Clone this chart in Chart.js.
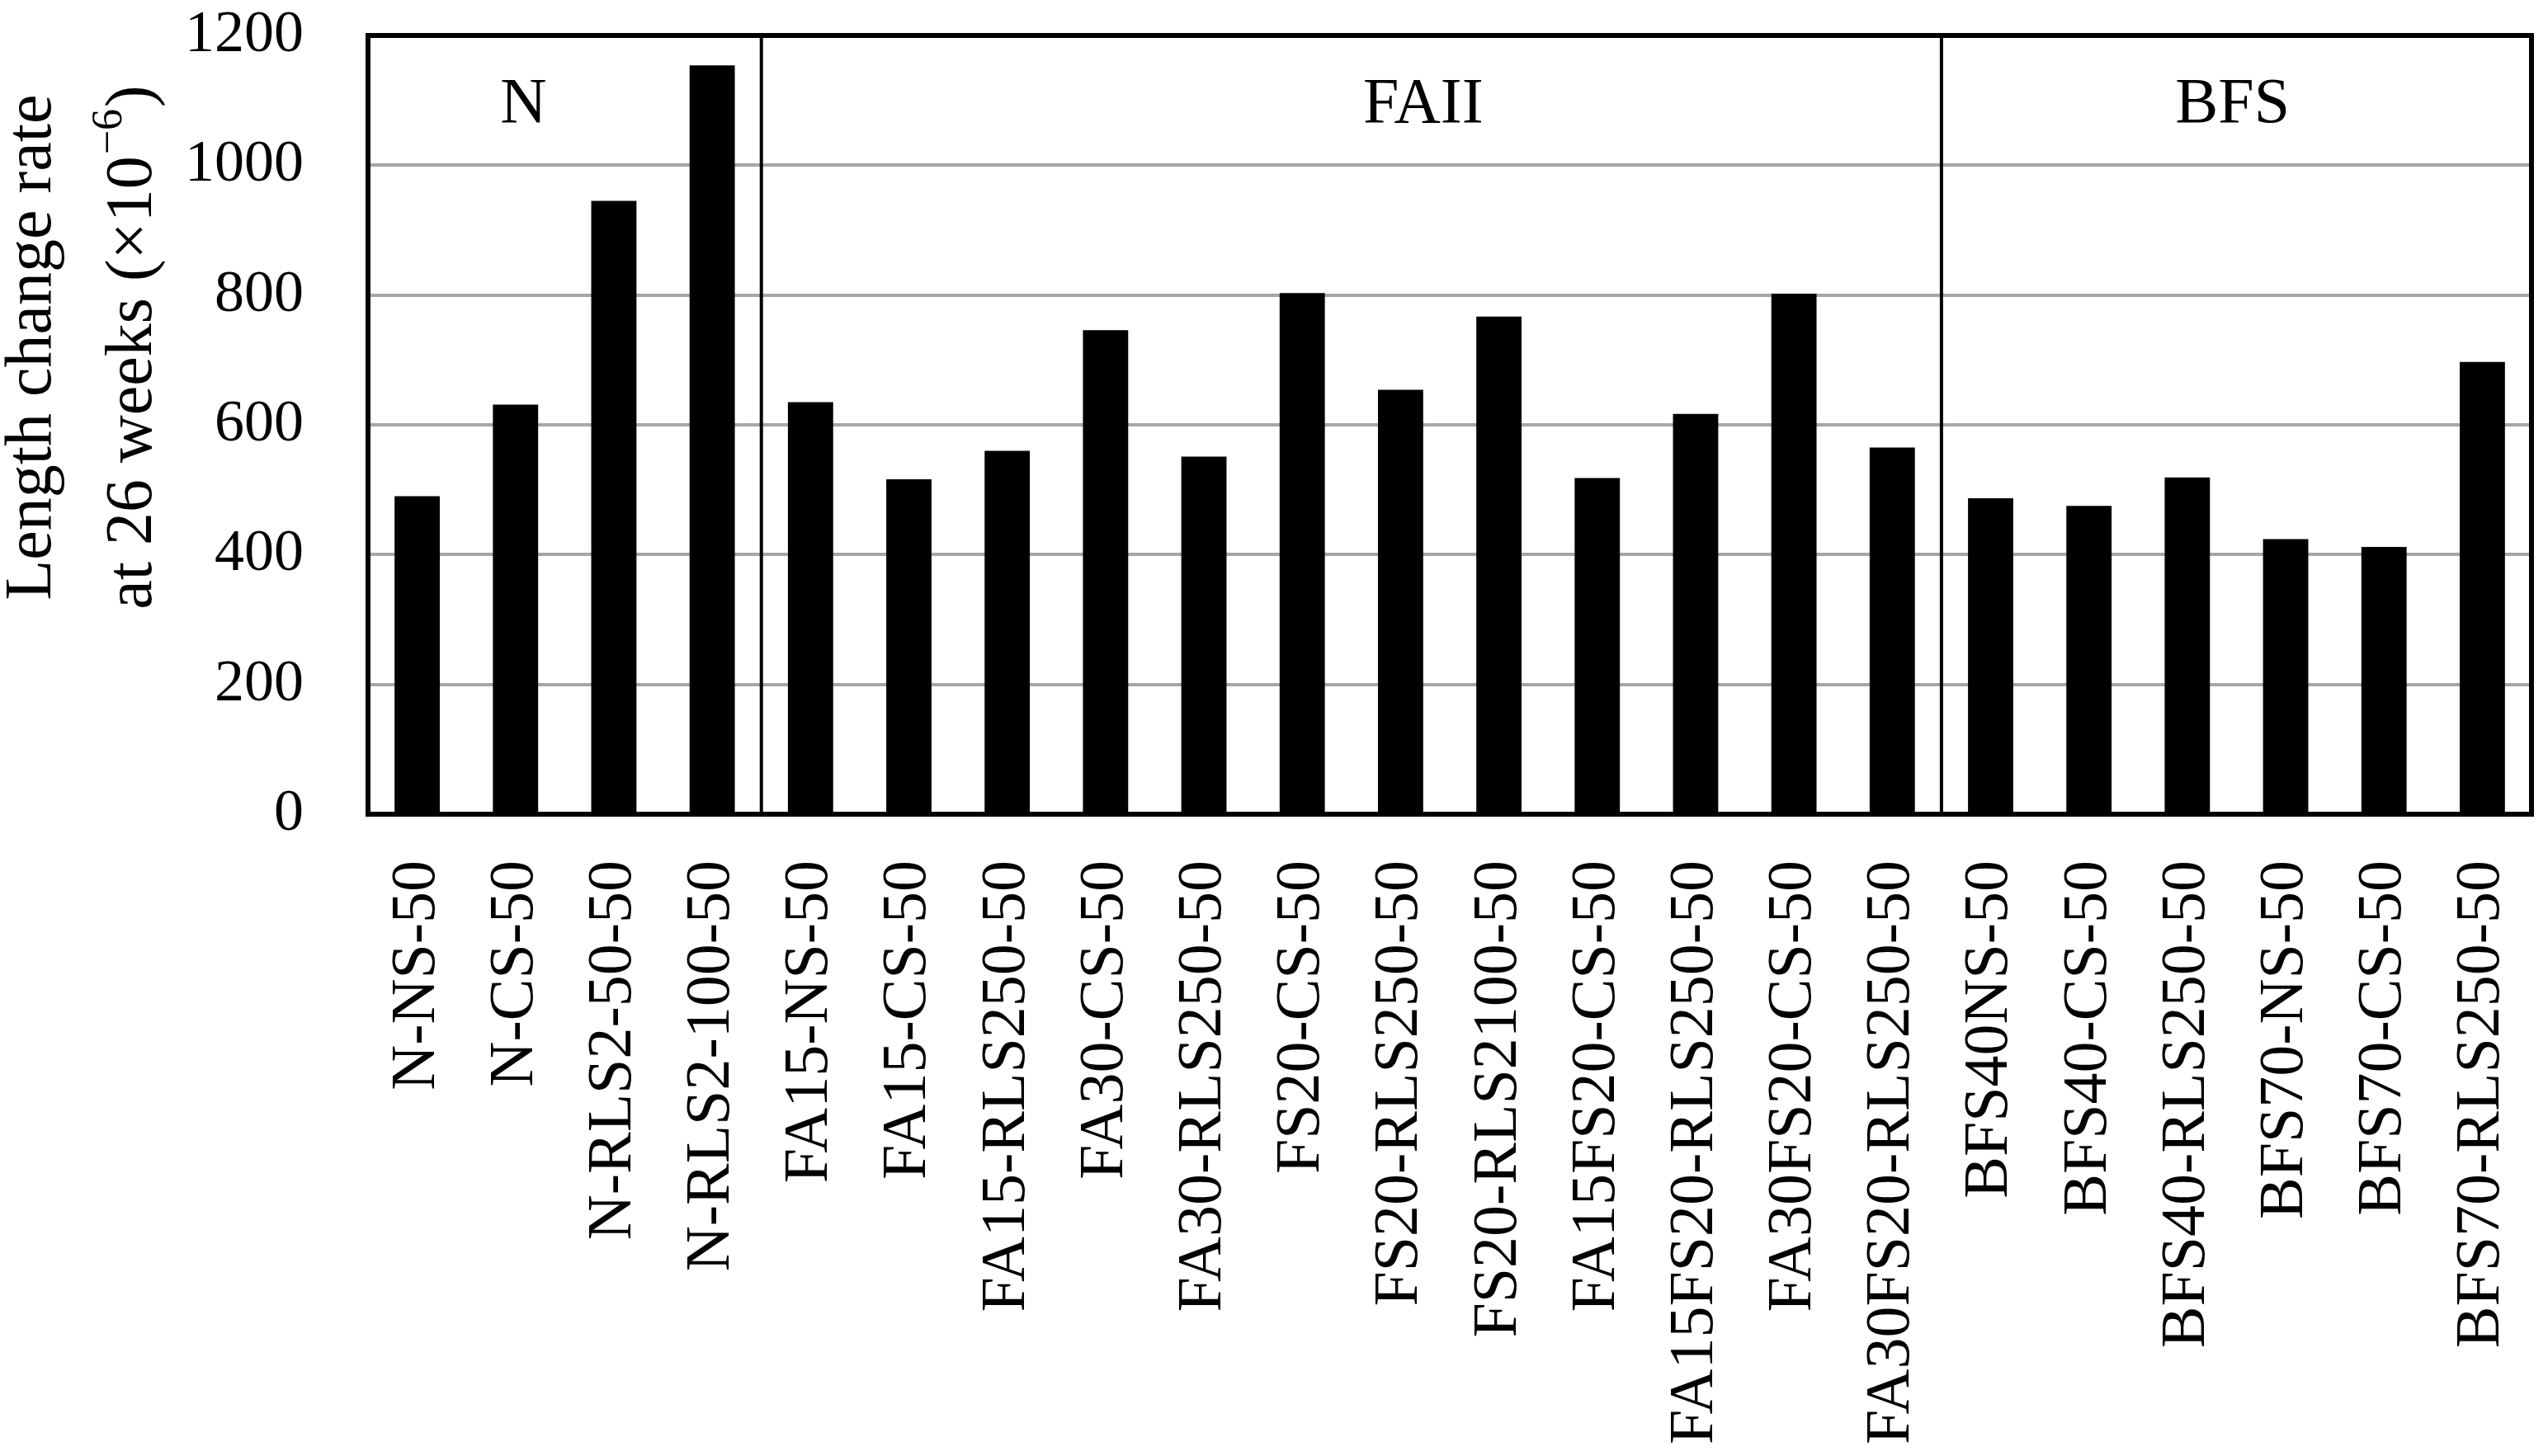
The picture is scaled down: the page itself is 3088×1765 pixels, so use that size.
<!DOCTYPE html>
<html>
<head>
<meta charset="utf-8">
<script src="https://cdn.jsdelivr.net/npm/chart.js@4.4.1/dist/chart.umd.min.js"></script>
<style>
  html, body { margin: 0; padding: 0; background: #ffffff; }
  #wrap { width: 3088px; height: 1765px; }
</style>
</head>
<body>
<div id="wrap"><canvas id="c" width="3088" height="1765"></canvas></div>
<script>
// ---- data ----
const categories = [
  'N-NS-50', 'N-CS-50', 'N-RLS2-50-50', 'N-RLS2-100-50',
  'FA15-NS-50', 'FA15-CS-50', 'FA15-RLS250-50', 'FA30-CS-50', 'FA30-RLS250-50',
  'FS20-CS-50', 'FS20-RLS250-50', 'FS20-RLS2100-50', 'FA15FS20-CS-50',
  'FA15FS20-RLS250-50', 'FA30FS20-CS-50', 'FA30FS20-RLS250-50',
  'BFS40NS-50', 'BFS40-CS-50', 'BFS40-RLS250-50', 'BFS70-NS-50', 'BFS70-CS-50', 'BFS70-RLS250-50'
];
const values = [490, 631, 945, 1154, 635, 516, 560, 746, 551, 803, 654, 767, 518, 617, 802, 565, 487, 475, 519, 424, 412, 697];
const yTickValues = [0, 200, 400, 600, 800, 1000, 1200];
const yTickLabels = ['0', '200', '400', '600', '800', '1000', '1200'];
const groupNames = ['N', 'FAII', 'BFS'];
const groupFirst = [0, 4, 16];
const groupLast = [3, 15, 21];
const yTitleLine1 = 'Length change rate';
const yTitleLine2 = ['at 26 weeks (\u00d710', '\u22126', ')'];

// ---- layout / style ----
const FONT = '"Liberation Serif", "Times New Roman", serif';
const PLOT = { left: 446, right: 3068, top: 43, bottom: 987 };
const W = 3088, H = 1765;

const decorPlugin = {
  id: 'decor',
  afterDatasetsDraw(chart, args, opts) {
    const ctx = chart.ctx;
    const area = chart.chartArea;
    const x = chart.scales.x;
    const y = chart.scales.y;
    ctx.save();
    // group dividers
    ctx.strokeStyle = '#000';
    ctx.lineWidth = 4;
    for (let g = 1; g < groupFirst.length; g++) {
      const px = (x.getPixelForValue(groupFirst[g] - 1) + x.getPixelForValue(groupFirst[g])) / 2;
      ctx.beginPath();
      ctx.moveTo(px, area.top);
      ctx.lineTo(px, area.bottom);
      ctx.stroke();
    }
    // plot frame
    ctx.lineWidth = 6;
    ctx.strokeRect(area.left, area.top, area.right - area.left, area.bottom - area.top);
    // group labels
    ctx.fillStyle = '#000';
    ctx.font = '78px ' + FONT;
    ctx.textAlign = 'center';
    ctx.textBaseline = 'middle';
    const step = x.getPixelForValue(1) - x.getPixelForValue(0);
    for (let g = 0; g < groupNames.length; g++) {
      const px = x.getPixelForValue(0) + opts.labelIndex[g] * step;
      ctx.fillText(groupNames[g], px, y.getPixelForValue(opts.labelValue));
    }
    ctx.restore();
  },
  afterDraw(chart, args, opts) {
    const ctx = chart.ctx;
    ctx.save();
    ctx.fillStyle = '#000';
    ctx.textBaseline = 'alphabetic';
    // line 1
    ctx.font = '80px ' + FONT;
    ctx.save();
    ctx.translate(opts.line1X, opts.titleCenterY);
    ctx.rotate(-Math.PI / 2);
    ctx.textAlign = 'center';
    ctx.fillText(yTitleLine1, 0, 0);
    ctx.restore();
    // line 2 with superscript
    const big = '80px ' + FONT, small = '52px ' + FONT;
    ctx.font = big; const w0 = ctx.measureText(yTitleLine2[0]).width;
    ctx.font = small; const w1 = ctx.measureText(yTitleLine2[1]).width;
    ctx.font = big; const w2 = ctx.measureText(yTitleLine2[2]).width;
    const total = w0 + w1 + w2 + 4;
    ctx.save();
    ctx.translate(opts.line2X, opts.titleCenterY);
    ctx.rotate(-Math.PI / 2);
    ctx.textAlign = 'left';
    let cx = -total / 2;
    ctx.font = big; ctx.fillText(yTitleLine2[0], cx, 0); cx += w0 + 2;
    ctx.font = small; ctx.fillText(yTitleLine2[1], cx, -36); cx += w1 + 2;
    ctx.font = big; ctx.fillText(yTitleLine2[2], cx, 0);
    ctx.restore();
    ctx.restore();
  }
};

new Chart(document.getElementById('c'), {
  type: 'bar',
  data: {
    labels: categories,
    datasets: [{
      data: values,
      backgroundColor: '#000000',
      borderWidth: 0,
      barPercentage: 0.46,
      categoryPercentage: 1.0
    }]
  },
  plugins: [decorPlugin],
  options: {
    responsive: false,
    devicePixelRatio: 1,
    animation: false,
    events: [],
    layout: { padding: { left: 0, right: W - PLOT.right, top: PLOT.top, bottom: 0 } },
    plugins: {
      legend: { display: false },
      tooltip: { enabled: false },
      title: { display: false },
      decor: { labelIndex: [1.08, 10.23, 18.46], labelValue: 1092, line1X: 61, line2X: 183, titleCenterY: 421 }
    },
    scales: {
      x: {
        grid: { display: false, drawTicks: false },
        border: { display: false },
        ticks: {
          autoSkip: false,
          maxRotation: 90,
          minRotation: 90,
          padding: 56,
          color: '#000',
          font: { family: FONT, size: 76 }
        },
        afterFit(scale) {
          scale.height = H - PLOT.bottom;
          scale.paddingLeft = 0;
          scale.paddingRight = 0;
        }
      },
      y: {
        min: 0,
        max: 1200,
        afterBuildTicks(scale) {
          scale.ticks = yTickValues.map(v => ({ value: v }));
        },
        grid: { color: '#a6a6a6', lineWidth: 4, drawTicks: false },
        border: { display: false },
        ticks: {
          padding: 78,
          color: '#000',
          font: { family: FONT, size: 72 },
          callback(value) {
            const i = yTickValues.indexOf(value);
            return i >= 0 ? yTickLabels[i] : String(value);
          }
        },
        afterFit(scale) {
          scale.width = PLOT.left;
          scale.paddingTop = 0;
          scale.paddingBottom = 0;
        }
      }
    }
  }
});
</script>
</body>
</html>
